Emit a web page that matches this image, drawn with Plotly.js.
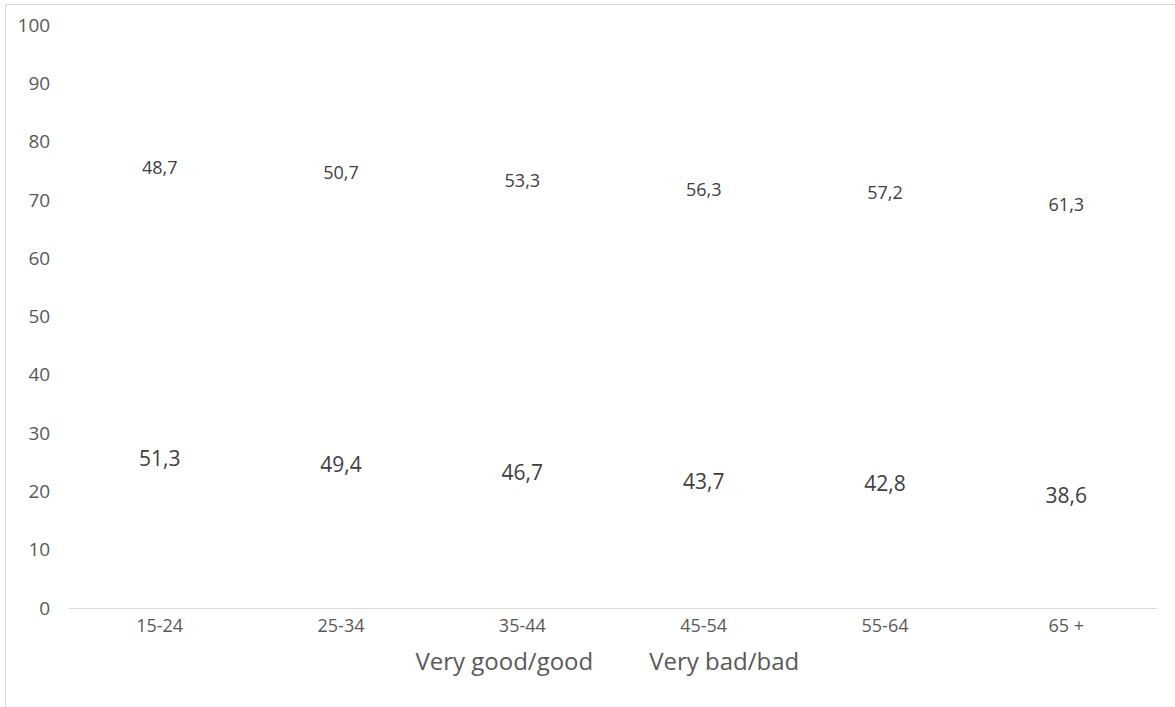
<!DOCTYPE html>
<html>
<head>
<meta charset="utf-8">
<script src="https://cdn.plot.ly/plotly-3.0.1.min.js"></script>
<style>
  html, body { margin: 0; padding: 0; background: #ffffff; }
  #frame { position: absolute; left: 5px; top: 4px; width: 1170px; height: 703px;
           border-left: 1px solid #d9d9d9; border-top: 1px solid #d9d9d9; box-sizing: border-box; }
  #chart { position: absolute; left: 0; top: 0; width: 1170px; height: 703px; }
</style>
</head>
<body>
<div id="frame"><div id="chart"></div></div>
<script>
const categories = ["15-24", "25-34", "35-44", "45-54", "55-64", "65 +"];
const goodValues = [51.3, 49.4, 46.7, 43.7, 42.8, 38.6];
const badValues = [48.7, 50.7, 53.3, 56.3, 57.2, 61.3];
const seriesNames = ["Very good/good", "Very bad/bad"];
const yTicks = [0, 10, 20, 30, 40, 50, 60, 70, 80, 90, 100];

const fontFam = '"Open Sans", "Noto Sans", sans-serif';

const traces = [
  {
    type: 'bar', name: seriesNames[0], x: categories, y: goodValues,
    marker: { color: 'rgba(255,255,255,0)', line: { width: 0 } },
    texttemplate: '%{y:.1f}', textposition: 'inside', insidetextanchor: 'middle',
    constraintext: 'none', textangle: 0,
    textfont: { family: fontFam, size: 21, color: '#404040' },
    hoverinfo: 'skip'
  },
  {
    type: 'bar', name: seriesNames[1], x: categories, y: badValues,
    marker: { color: 'rgba(255,255,255,0)', line: { width: 0 } },
    texttemplate: '%{y:.1f}', textposition: 'inside', insidetextanchor: 'middle',
    constraintext: 'none', textangle: 0,
    textfont: { family: fontFam, size: 18, color: '#404040' },
    hoverinfo: 'skip'
  }
];

const layout = {
  width: 1170, height: 703,
  margin: { l: 63, r: 19, t: 20, b: 100 },
  paper_bgcolor: 'rgba(0,0,0,0)', plot_bgcolor: 'rgba(0,0,0,0)',
  barmode: 'stack', bargap: 0.4,
  separators: ',.',
  font: { family: fontFam, color: '#595959' },
  xaxis: {
    type: 'category', showgrid: false, zeroline: false,
    showline: true, linecolor: '#d9d9d9', linewidth: 1,
    ticks: 'outside', ticklen: 1, tickcolor: 'rgba(0,0,0,0)',
    tickfont: { family: fontFam, size: 18, color: '#595959' }
  },
  yaxis: {
    range: [0, 100], tickvals: yTicks, ticktext: yTicks.map(String),
    showgrid: false, zeroline: false, showline: false,
    ticks: 'outside', ticklen: 14, tickcolor: 'rgba(0,0,0,0)',
    tickfont: { family: fontFam, size: 19, color: '#595959' }
  },
  showlegend: true,
  legend: {
    orientation: 'h', x: 0.2715, xanchor: 'left', y: -0.091, yanchor: 'middle',
    itemwidth: 41,
    font: { family: fontFam, size: 24, color: '#595959' },
    bgcolor: 'rgba(0,0,0,0)', traceorder: 'normal'
  }
};

Plotly.newPlot('chart', traces, layout, { displayModeBar: false, staticPlot: true });
</script>
</body>
</html>
